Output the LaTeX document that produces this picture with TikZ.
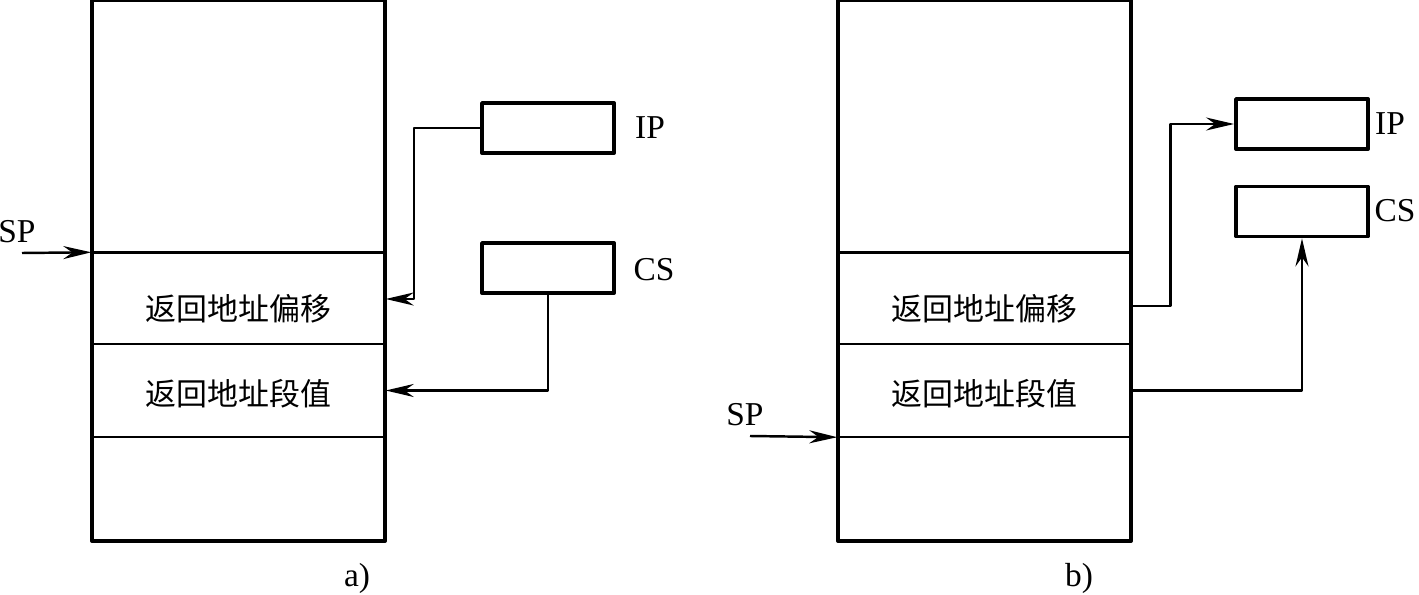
\documentclass[tikz,border=0pt]{standalone}
\usepackage{fontspec}
\setmainfont{Liberation Serif}
\newfontfamily\cjk{Noto Sans CJK SC}
\usetikzlibrary{arrows.meta}
\begin{document}
\begin{tikzpicture}[line join = round,>={Stealth[length=2.8mm,width=1.3mm]},
	stack/.style={draw,line width=1.1pt,minimum width=2.93cm,minimum height=5.41cm,inner sep=0pt},
	cell/.style={minimum width=2.93cm,minimum height=0.92cm,inner sep=0pt},
	txt/.style={inner sep=0pt,font=\cjk\fontsize{8.8}{10}\selectfont},
	reg/.style={draw,line width=1.1pt,minimum width=1.32cm,minimum height=0.5cm,inner sep=0pt},
	lbl/.style={font=\fontsize{9.5}{11}\selectfont},
	wire/.style={line width=0.7pt}]
	\useasboundingbox (0,0) rectangle (14.19,5.94);
	%Hình a): trước khi RET
	\node[stack] (stackA) at (2.385,3.235) {};
	\node[cell] (offA) at (2.385,2.95) {};
	\node[cell] (segA) at (2.385,2.035) {};
	\node[txt] (offTxtA) at ([yshift=-1mm]offA) {返回地址偏移};
	\node[txt] (segTxtA) at ([yshift=-0.3mm]segA) {返回地址段值};
	\draw[wire] (offA.north west)--(offA.north east)
	(segA.north west)--(segA.north east)
	(segA.south west)--(segA.south east);
	\node[reg] (ipA) at (5.48,4.66) {};
	\node[reg] (csA) at (5.48,3.26) {};
	\node[lbl] (ipLblA) at (6.50,4.66) {IP};
	\node[lbl] (csLblA) at (6.54,3.24) {CS};
	\node[lbl] (spLblA) at (0.17,3.62) {SP};
	\coordinate (spA) at (0.22,3.41);
	\draw[wire,->] (spA)--(offA.north west);
	\draw[wire,->] (ipA.west)--++(-0.66,0)|-(offA.east);
	\draw[wire,->] (csA.south)|-(segA.east);
	\node[lbl] (capA) at (3.57,0.16) {a)};
	%Hình b): sau khi RET
	\node[stack] (stackB) at (9.845,3.235) {};
	\node[cell] (offB) at (9.845,2.95) {};
	\node[cell] (segB) at (9.845,2.035) {};
	\node[txt] (offTxtB) at ([yshift=-1mm]offB) {返回地址偏移};
	\node[txt] (segTxtB) at ([yshift=-0.3mm]segB) {返回地址段值};
	\draw[wire] (offB.north west)--(offB.north east)
	(segB.north west)--(segB.north east)
	(segB.south west)--(segB.south east);
	\node[reg] (ipB) at (13.02,4.70) {};
	\node[reg] (csB) at (13.02,3.825) {};
	\node[lbl] (ipLblB) at (13.90,4.70) {IP};
	\node[lbl] (csLblB) at (13.95,3.83) {CS};
	\node[lbl] (spLblB) at (7.45,1.79) {SP};
	\coordinate (spB) at (7.50,1.58);
	\draw[wire,->] (spB)--(segB.south west);
	\draw[wire,->] ([yshift=-0.7mm]offB.east)--++(0.39,0)|-(ipB.west);
	\draw[wire,->] (segB.east)-|(csB.south);
	\node[lbl] (capB) at (10.79,0.16) {b)};
\end{tikzpicture}
\end{document}
